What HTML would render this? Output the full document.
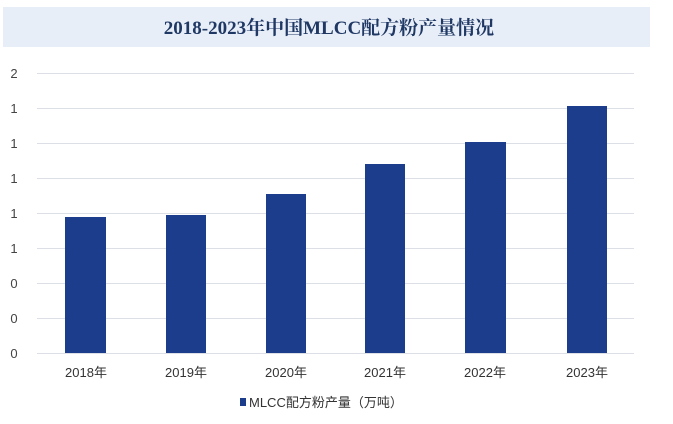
<!DOCTYPE html>
<html><head><meta charset="utf-8"><style>
body{margin:0;background:#fff;}
svg{display:block;font-family:"Liberation Sans","Noto Sans CJK SC",sans-serif;}
</style></head><body>
<svg width="673" height="424" viewBox="0 0 673 424">
<rect x="0" y="0" width="673" height="424" fill="#fff"/>
<rect x="3" y="8" width="647" height="52" fill="#e8eef8" opacity="0"/>
<rect x="3" y="8" width="647" height="53" fill="#fff"/>
<rect x="3" y="8" width="647" height="53" fill="#eaf0f9" opacity="0"/>
<rect x="3" y="7" width="647" height="53" fill="#fff"/>
<rect x="3" y="7" width="647" height="0" fill="#fff"/>
<rect x="3" y="7" width="647" height="53" fill="#e8eef8" opacity="0"/>
<rect x="3" y="7" width="647" height="40" fill="#e8eef8"/>
<text x="329" y="34" text-anchor="middle" font-family="Liberation Serif,Noto Serif CJK SC,serif" font-size="19" font-weight="bold" fill="#1f3864">2018-2023年中国MLCC配方粉产量情况</text>
<g stroke="#dcdfe6" stroke-width="1">
<line x1="37" x2="634" y1="73.5" y2="73.5"/>
<line x1="37" x2="634" y1="108.5" y2="108.5"/>
<line x1="37" x2="634" y1="143.5" y2="143.5"/>
<line x1="37" x2="634" y1="178.5" y2="178.5"/>
<line x1="37" x2="634" y1="213.5" y2="213.5"/>
<line x1="37" x2="634" y1="248.5" y2="248.5"/>
<line x1="37" x2="634" y1="283.5" y2="283.5"/>
<line x1="37" x2="634" y1="318.5" y2="318.5"/>
<line x1="37" x2="634" y1="353.5" y2="353.5"/>
</g>
<g font-size="13" fill="#444" text-anchor="middle">
<text x="14" y="78">2</text><text x="14" y="113">1</text><text x="14" y="148">1</text><text x="14" y="183">1</text><text x="14" y="218">1</text><text x="14" y="253">1</text><text x="14" y="288">0</text><text x="14" y="323">0</text><text x="14" y="358">0</text>
</g>
<g fill="#1c3c8c">
<rect x="65" y="217" width="41" height="136"/>
<rect x="166" y="215" width="40" height="138"/>
<rect x="266" y="194" width="40" height="159"/>
<rect x="365" y="164" width="40" height="189"/>
<rect x="465" y="142" width="41" height="211"/>
<rect x="567" y="106" width="40" height="247"/>
</g>
<g font-size="13" fill="#333" text-anchor="middle">
<text x="86" y="377">2018年</text><text x="186" y="377">2019年</text><text x="286" y="377">2020年</text><text x="385" y="377">2021年</text><text x="485" y="377">2022年</text><text x="587" y="377">2023年</text>
</g>
<rect x="240" y="398" width="6" height="8" fill="#1c3c8c"/>
<text x="249" y="407" font-size="13" fill="#333">MLCC配方粉产量（万吨）</text>
</svg>
</body></html>
